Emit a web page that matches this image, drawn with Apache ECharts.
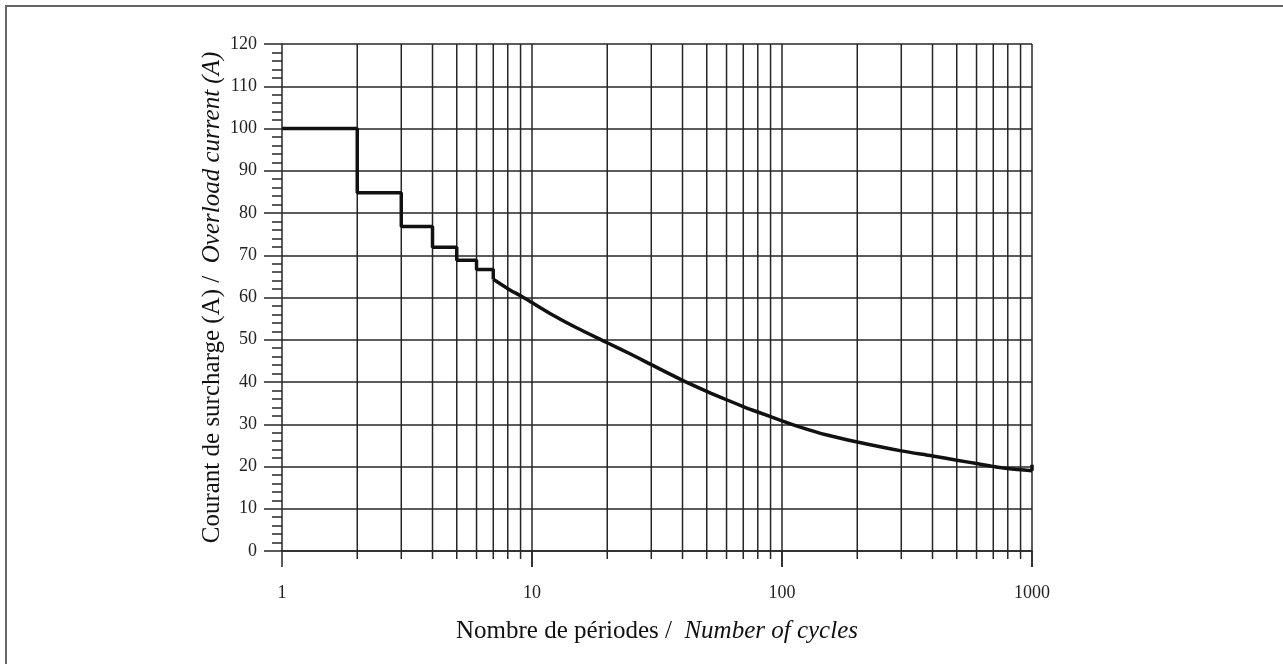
<!DOCTYPE html>
<html>
<head>
<meta charset="utf-8">
<script src="https://cdn.jsdelivr.net/npm/echarts@6/dist/echarts.min.js"></script>
<style>
html,body{margin:0;padding:0;background:#fff;}
#chart{width:1283px;height:664px;}
</style>
</head>
<body>
<div id="chart"></div>
<script>
// ---- data ----
var stepEdges = [1, 2, 3, 4, 5, 6, 7];
var stepLevels = [100, 84.8, 76.8, 71.9, 68.8, 66.6];
var curveX = [7, 8, 9, 10, 12, 15, 20, 25, 30, 40, 50, 60, 70, 80, 100, 120, 150, 200, 300, 400, 500, 600, 700, 800, 1000];
var curveY = [64.3, 62.1, 60.4, 58.8, 56.0, 52.9, 49.3, 46.5, 44.1, 40.4, 37.8, 35.8, 34.2, 32.9, 30.8, 29.2, 27.5, 25.8, 23.7, 22.5, 21.5, 20.7, 20.0, 19.5, 19.0];
var endMarkX = [1000, 1000];
var endMarkY = [19.0, 20.4];
var xTickValues = [1, 10, 100, 1000];
var xGridValues = [2, 3, 4, 5, 6, 7, 8, 9, 10, 20, 30, 40, 50, 60, 70, 80, 90, 100, 200, 300, 400, 500, 600, 700, 800, 900, 1000];
var xTitleFr = 'Nombre de périodes / ';
var xTitleEn = 'Number of cycles';
var yTitleFr = 'Courant de surcharge (A) / ';
var yTitleEn = 'Overload current (A)';

// build the line points
var stepData = [];
for (var i = 0; i < stepLevels.length; i++) {
  stepData.push([stepEdges[i], stepLevels[i]]);
  stepData.push([stepEdges[i + 1], stepLevels[i]]);
}
stepData.push([curveX[0], curveY[0]]);
var curveData = curveX.map(function (x, i) { return [x, curveY[i]]; });
var endData = endMarkX.map(function (x, i) { return [x, endMarkY[i]]; });

var FONT = '"Liberation Serif", "DejaVu Serif", serif';
var GRIDC = '#262626';
var TITLE_SIZE = 25;
var TICK_SIZE = 18;

var chart = echarts.init(document.getElementById('chart'), null, {renderer: 'canvas'});
var lineStyle = {color: '#111', width: 3.5};
chart.setOption({
  backgroundColor: '#fff',
  animation: false,
  graphic: [{
    type: 'rect',
    shape: {x: 6, y: 6, width: 1300, height: 700},
    style: {fill: 'none', stroke: '#666', lineWidth: 2},
    silent: true
  }],
  grid: {left: 282, right: 251, top: 44, bottom: 113, containLabel: false},
  xAxis: {
    type: 'log',
    logBase: 10,
    min: 1,
    max: 1000,
    axisLine: {show: true, lineStyle: {color: GRIDC, width: 1.5}},
    axisTick: {show: true, length: 16, lineStyle: {color: GRIDC, width: 1.5}},
    splitLine: {show: false},
    axisLabel: {
      margin: 33,
      fontFamily: FONT, fontSize: TICK_SIZE, color: '#222',
      formatter: function (v) { return xTickValues.indexOf(Math.round(v)) >= 0 ? String(Math.round(v)) : ''; }
    },
    name: '{a|' + xTitleFr + ' }{b|' + xTitleEn + '}',
    nameLocation: 'middle',
    nameGap: 68,
    nameTextStyle: {
      rich: {
        a: {fontFamily: FONT, fontSize: TITLE_SIZE, color: '#111'},
        b: {fontFamily: FONT, fontSize: TITLE_SIZE, fontStyle: 'italic', color: '#111'}
      }
    }
  },
  yAxis: {
    type: 'value',
    min: 0,
    max: 120,
    interval: 10,
    axisLine: {show: true, lineStyle: {color: GRIDC, width: 1.5}},
    axisTick: {show: true, length: 18, lineStyle: {color: GRIDC, width: 1.5}},
    minorTick: {show: true, splitNumber: 5, length: 10, lineStyle: {color: GRIDC, width: 1.5}},
    splitLine: {show: true, lineStyle: {color: GRIDC, width: 1.5}},
    axisLabel: {margin: 25, fontFamily: FONT, fontSize: TICK_SIZE, color: '#222'},
    name: '{a|' + yTitleFr + ' }{b|' + yTitleEn + '}',
    nameLocation: 'middle',
    nameMoveOverlap: false,
    nameGap: 57,
    nameTextStyle: {
      rich: {
        a: {fontFamily: FONT, fontSize: TITLE_SIZE, color: '#111'},
        b: {fontFamily: FONT, fontSize: TITLE_SIZE, fontStyle: 'italic', color: '#111'}
      }
    }
  },
  series: [
    {
      type: 'custom',
      silent: true,
      coordinateSystem: 'cartesian2d',
      data: xGridValues.map(function (v) { return [v]; }),
      encode: {x: 0},
      clip: false,
      renderItem: function (params, api) {
        var v = api.value(0);
        var top = api.coord([v, 120]);
        var bot = api.coord([v, 0]);
        var ext = xTickValues.indexOf(v) >= 0 ? 16 : 8;
        return {
          type: 'line',
          shape: {x1: top[0], y1: top[1], x2: bot[0], y2: bot[1] + ext},
          style: {stroke: GRIDC, lineWidth: 1.5}
        };
      },
      z: 1
    },
    {type: 'line', data: stepData, showSymbol: false, symbol: 'none', lineStyle: lineStyle, z: 5},
    {type: 'line', data: curveData, smooth: 0.3, showSymbol: false, symbol: 'none', lineStyle: lineStyle, z: 5},
    {type: 'line', data: endData, showSymbol: false, symbol: 'none', lineStyle: lineStyle, z: 5}
  ]
});
</script>
</body>
</html>
